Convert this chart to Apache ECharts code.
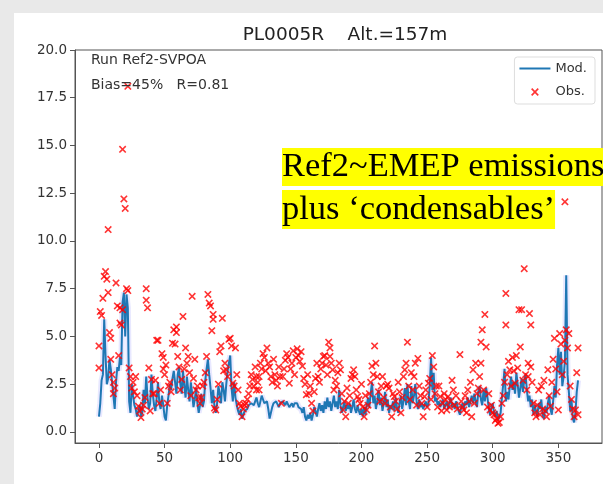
<!DOCTYPE html>
<html><head><meta charset="utf-8">
<script src="https://cdn.jsdelivr.net/npm/echarts@6/dist/echarts.min.js"></script>
<style>html,body{margin:0;padding:0;background:#e9e9e9}#c{width:603px;height:484px}</style>
</head><body><div id="c"></div><script>
const chartTitle = 'PL0005R    Alt.=157m';
const runText = 'Run Ref2-SVPOA';
const statText = 'Bias=45%   R=0.81';
const noteLine1 = 'Ref2~EMEP emissions';
const noteLine2 = 'plus \u2018condensables\u2019';
const xTicks = [0, 50, 100, 150, 200, 250, 300, 350];
const yTicks = [0, 2.5, 5, 7.5, 10, 12.5, 15, 17.5, 20];

// Model daily values, day 0..365
const model = [
0.8,1.5,2.7,3.0,5.9,4.0,2.5,2.8,3.8,3.3,2.6,1.9,1.2,2.6,3.4,3.2,3.9,3.5,6.8,7.3,
5.0,7.2,6.5,1.6,1.0,2.5,1.9,1.4,1.2,0.8,0.9,1.4,0.8,1.0,2.2,1.5,2.9,1.8,1.2,1.5,
3.0,2.0,1.4,1.1,1.8,2.6,1.5,1.2,1.9,1.4,0.8,0.6,1.4,1.9,2.5,2.2,2.8,3.2,2.6,2.0,
3.0,3.4,2.5,2.0,3.2,2.4,1.8,2.9,2.2,1.6,2.6,2.0,1.3,1.7,2.3,1.5,1.0,1.4,2.0,1.3,
1.6,2.7,3.3,3.8,3.0,2.3,1.5,2.2,1.3,1.0,1.5,2.4,2.0,1.5,2.6,2.2,1.6,2.5,3.2,3.6,
4.0,2.3,1.6,2.6,1.8,1.4,1.1,0.9,1.2,0.7,0.8,1.1,1.0,1.2,1.4,1.3,1.5,1.6,1.4,1.6,
1.8,1.5,1.3,1.6,1.9,1.7,1.5,1.4,1.6,1.2,0.7,0.8,1.3,1.5,1.4,1.6,1.5,1.3,1.5,1.4,
1.6,1.5,1.4,1.6,1.5,1.3,1.4,1.5,1.3,1.5,1.4,1.5,1.3,1.4,1.2,1.0,1.3,0.8,0.6,0.9,
0.7,1.0,0.6,0.9,1.3,1.1,0.8,1.2,1.5,1.1,1.4,1.0,1.6,1.2,1.8,1.3,1.6,1.1,1.5,1.9,
1.3,1.6,1.2,2.2,1.4,1.0,1.3,1.6,1.1,1.4,1.2,1.5,1.0,1.3,1.7,1.2,1.0,1.4,1.1,0.9,
1.2,0.8,1.3,0.9,1.4,1.8,1.3,2.0,2.6,1.5,1.9,1.2,1.6,2.2,1.4,1.8,1.1,1.5,2.1,1.3,
1.7,1.0,1.4,1.2,1.6,1.1,1.8,1.3,1.0,1.5,1.9,1.2,1.6,2.3,1.4,2.5,1.6,1.2,2.4,1.5,
1.9,2.5,1.6,1.2,1.7,1.3,1.5,1.2,1.4,1.6,1.3,1.5,2.4,3.9,2.2,3.1,1.6,1.8,1.4,1.6,
1.3,1.5,1.7,1.2,1.4,1.6,1.2,1.5,1.8,1.3,1.5,1.2,1.6,1.4,1.1,0.9,1.3,1.5,1.2,1.6,
1.4,1.8,1.3,1.6,1.9,1.5,2.0,1.6,1.3,2.1,2.4,1.7,1.4,2.2,1.6,2.3,1.8,1.2,0.9,1.3,
1.5,1.0,0.8,1.1,0.6,0.7,1.0,1.8,2.5,3.3,1.6,2.1,1.7,2.4,2.9,2.2,2.6,2.0,3.1,2.5,
1.8,2.3,2.8,2.1,2.7,3.0,2.2,1.6,1.9,1.3,1.7,0.9,1.4,1.1,0.8,1.5,1.2,1.7,0.9,0.7,
1.3,1.0,1.5,1.9,1.2,0.9,1.6,2.4,1.8,3.5,4.4,3.0,4.2,2.4,2.9,3.7,8.2,3.0,2.1,1.1,
1.7,0.7,0.5,1.0,2.1,2.7
];

// Observations: day and value
const obsDay = [
0,0,1,2,3,4,5,6,7,7,8,9,9,11,11,12,13,14,16,16,18,18,19,20,21,22,22,
23,24,26,27,28,29,30,31,32,33,35,36,36,37,38,39,40,41,42,44,45,46,47,48,49,49,51,52,53,54,56,57,59,59,60,61,62,63,64,66,68,69,70,71,73,74,75,77,78,79,80,82,83,84,85,87,87,88,89,90,92,93,94,96,97,98,99,100,102,103,104,106,107,108,109,111,112,113,115,117,118,120,120,122,122,
124,126,128,129,130,132,134,136,138,139,142,144,145,146,148,149,151,152,153,155,156,158,160,162,163,166,167,168,170,171,173,175,176,176,178,179,182,184,186,188,190,194,195,197,199,202,204,206,208,210,211,212,215,217,219,220,223,225,228,230,233,235,238,241,243,245,246,247,248,251,254,255,257,259,260,262,264,265,266,269,270,275,278,281,284,285,287,289,291,291,292,294,295,298,302,304,306,307,310,310,312,313,315,317,319,320,321,322,324,327,327,328,329,329,333,335,337,341,342,344,346,347,350,351,354,355,355,356,358,359,360,362,363,364,365,
10,15,17,25,34,43,50,55,58,65,67,72,76,81,86,91,95,101,105,110,
114,116,119,121,123,125,127,131,133,135,137,140,141,143,147,150,154,157,159,161,164,165,169,172,174,177,180,181,183,185,187,189,191,192,193,196,198,200,201,203,205,207,209,213,214,216,218,221,222,224,226,227,229,231,232,234,236,237,239,240,242,244,249,250,252,253,256,258,261,263,267,268,271,272,273,276,277,279,280,282,283,286,288,290,293,296,297,299,300,301,303,305,308,309,311,314,316,318,323,325,326,330,331,332,334,336,338,339,340,343,345,348,349,352,353,357,361,365
];
const obsVal = [
4.5,3.35,6.3,6.1,7.0,8.15,8.4,8.0,7.3,10.6,5.2,4.9,3.8,2.6,2.0,2.3,7.8,6.6,6.5,5.7,6.4,14.8,12.2,11.7,7.5,18.1,7.4,
3.35,2.9,2.6,2.1,2.9,1.9,1.35,1.1,0.75,1.2,1.8,7.5,6.9,6.5,3.35,1.1,2.75,2.0,2.0,4.8,4.8,1.5,2.2,4.1,3.9,3.3,3.5,1.5,2.4,2.6,4.65,5.35,5.5,5.2,3.95,3.4,2.2,2.75,6.05,4.4,3.95,3.1,1.9,7.1,3.8,2.2,2.4,1.5,1.8,2.4,2.6,3.95,7.2,6.75,6.6,6.15,5.9,1.25,1.15,1.7,4.2,4.5,5.95,3.6,3.25,2.9,4.85,4.9,2.55,2.4,4.4,2.2,1.5,1.35,0.8,1.4,1.5,1.7,2.4,2.75,2.4,2.2,2.9,2.9,2.2,
3.3,3.9,4.4,3.6,3.4,2.6,3.0,2.4,2.9,1.5,3.75,3.9,2.55,3.3,4.25,3.0,4.35,4.0,3.7,3.45,2.8,1.95,2.0,1.5,1.1,3.6,2.9,2.6,3.6,3.95,3.5,4.7,4.4,3.95,3.25,2.2,3.1,3.25,1.15,0.8,1.5,3.25,2.9,1.85,1.5,0.8,1.15,2.0,3.45,4.5,3.6,2.9,2.4,1.8,2.4,2.5,0.8,1.85,2.6,1.0,3.25,4.7,3.1,3.6,3.85,1.9,1.5,0.8,1.85,2.55,4.0,3.4,2.4,2.4,1.85,1.5,1.7,1.15,1.85,2.7,2.2,4.05,1.15,2.2,0.8,3.25,3.6,2.3,3.6,4.7,5.35,6.15,4.45,1.15,0.6,0.45,0.8,1.5,7.25,5.6,3.7,3.25,3.9,2.55,3.35,6.4,4.45,6.4,8.55,3.6,2.9,6.2,5.6,3.4,0.8,2.2,2.4,0.8,3.25,1.35,3.8,4.9,1.15,5.15,3.7,4.8,12.05,5.35,5.15,2.4,1.7,0.8,1.15,3.1,4.4,
3.0,4.0,5.6,2.3,1.4,2.7,3.0,2.1,4.6,3.3,3.6,2.8,1.8,3.1,5.3,2.5,3.2,4.5,3.0,1.2,
2.0,3.0,3.4,2.6,3.6,4.1,3.2,2.9,3.8,2.7,3.4,2.9,3.3,4.1,3.6,3.9,4.2,2.5,3.0,2.4,2.1,2.8,3.3,4.0,3.0,3.6,2.7,2.4,3.6,2.0,1.6,2.3,1.9,2.8,3.0,2.2,1.7,2.5,1.3,1.9,1.4,2.6,3.0,2.1,1.6,2.9,1.5,2.3,1.3,2.0,1.6,1.2,2.1,1.8,2.9,3.6,2.4,1.7,2.2,2.9,1.4,2.4,2.2,1.3,2.8,1.7,2.0,1.3,1.1,2.0,1.3,1.6,1.4,1.9,1.2,1.6,1.3,1.9,1.0,1.6,2.6,1.5,2.0,2.9,2.2,1.3,2.0,1.4,1.0,0.9,0.7,0.5,1.9,2.6,3.0,2.4,3.2,4.0,2.7,3.0,2.2,2.6,1.5,1.0,1.4,0.9,1.2,2.7,1.1,1.9,2.6,3.3,2.1,4.6,3.0,4.4,1.2,0.9
];

const chart = echarts.init(document.getElementById('c'));
const xPath = 'path://M0,1.5 L1.5,0 L5,3.5 L8.5,0 L10,1.5 L6.5,5 L10,8.5 L8.5,10 L5,6.5 L1.5,10 L0,8.5 L3.5,5 Z';
const xLegendPath = 'path://M-4,-4 L-3.99,-4 L-4,-3.99 Z M14,14 L13.99,14 L14,13.99 Z M0,1.5 L1.5,0 L5,3.5 L8.5,0 L10,1.5 L6.5,5 L10,8.5 L8.5,10 L5,6.5 L1.5,10 L0,8.5 L3.5,5 Z';
const axisCol = '#555';
const lblCol = '#333';
const font = '"DejaVu Sans", sans-serif';

chart.setOption({
  backgroundColor: '#e9e9e9',
  animation: false,
  title: {
    text: chartTitle, left: 340, top: 21, textAlign: 'center',
    textStyle: {fontFamily: font, fontSize: 18.5, fontWeight: 'normal', color: '#222'}
  },
  legend: {
    right: 8, top: 57, orient: 'vertical', itemGap: 10, itemWidth: 31, itemHeight: 14,
    backgroundColor: '#fff', borderColor: '#ddd', borderWidth: 1, borderRadius: 3,
    padding: [5, 8, 5, 5],
    textStyle: {fontFamily: font, fontSize: 13, color: '#333'},
    data: [
      {name: 'Mod.', icon: 'path://M0,0 L31,0 L31,2 L0,2 Z', itemStyle: {color: '#1f77b4'}},
      {name: 'Obs.', icon: xLegendPath}
    ]
  },
  grid: {left: 75, top: 50, width: 527, height: 393, show: true, borderColor: axisCol, borderWidth: 1, backgroundColor: '#fff'},
  xAxis: {
    type: 'value', min: -18.25, max: 383.25,
    splitLine: {show: false},
    axisLine: {onZero: false, lineStyle: {color: axisCol}},
    axisTick: {customValues: xTicks, length: 5, lineStyle: {color: axisCol}},
    axisLabel: {customValues: xTicks, fontFamily: font, fontSize: 13.5, color: lblCol, margin: 8}
  },
  yAxis: {
    type: 'value', min: -0.58, max: 20,
    splitLine: {show: false},
    axisLine: {show: true, onZero: false, lineStyle: {color: axisCol}},
    axisTick: {show: true, customValues: yTicks, length: 5, lineStyle: {color: axisCol}},
    axisLabel: {customValues: yTicks, fontFamily: font, fontSize: 13.5, color: lblCol, margin: 8,
      formatter: v => v.toFixed(1)}
  },
  graphic: [
    {type: 'rect', z: -100, silent: true, shape: {x: 14, y: 13, width: 589, height: 471}, style: {fill: '#fff'}},
    {type: 'text', z: 100, x: 91, y: 60, style: {text: runText, font: '14px ' + font, fill: '#333', verticalAlign: 'middle'}},
    {type: 'text', z: 100, x: 91, y: 85, style: {text: statText, font: '14px ' + font, fill: '#333', verticalAlign: 'middle'}},
    {type: 'text', z: 100, x: 282, y: 148, style: {text: noteLine1, font: '34.5px "Liberation Serif", serif', fill: '#000', verticalAlign: 'top', backgroundColor: '#ffff00', lineHeight: 38}},
    {type: 'text', z: 100, x: 282, y: 190, style: {text: noteLine2, font: '34.5px "Liberation Serif", serif', fill: '#000', verticalAlign: 'top', backgroundColor: '#ffff00', lineHeight: 39}}
  ],
  series: [
    {name: 'band', type: 'line', data: model.map((v, i) => [i, v]), showSymbol: false, silent: true,
      lineStyle: {color: 'rgba(150,150,255,0.22)', width: 6}, z: 1},
    {name: 'Mod.', type: 'line', data: model.map((v, i) => [i, v]), showSymbol: false,
      lineStyle: {color: '#1f77b4', width: 2}, itemStyle: {color: '#1f77b4'}, z: 2},
    {name: 'Obs.', type: 'scatter', data: obsDay.map((d, i) => [d, obsVal[i]]), symbol: xPath, symbolSize: 7.5,
      itemStyle: {color: '#ff0000'}, z: 3}
  ]
});
</script></body></html>
